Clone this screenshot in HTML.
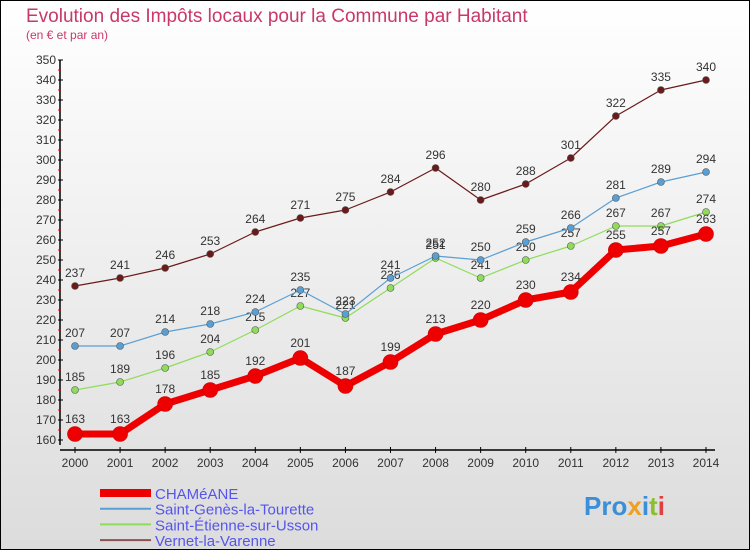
<!DOCTYPE html>
<html><head><meta charset="utf-8"><style>
body{margin:0}
#c{width:750px;height:550px;position:relative;font-family:"Liberation Sans",sans-serif}
</style></head><body>
<div id="c">
<svg id="s" width="750" height="550" xmlns="http://www.w3.org/2000/svg">
<defs><linearGradient id="bg" x1="0" y1="0" x2="0" y2="1"><stop offset="0" stop-color="#ffffff"/><stop offset="1" stop-color="#dcdcdc"/></linearGradient></defs>
<rect x="0.5" y="0.5" width="749" height="549" fill="url(#bg)" stroke="#000"/>
<text x="26" y="22" font-size="19" fill="#c8386a">Evolution des Impôts locaux pour la Commune par Habitant</text>
<text x="26" y="39" font-size="12" fill="#c8386a">(en € et par an)</text>
<g id="axes"></g><g id="series"></g><g id="legend"></g>
<text x="584" y="515" font-size="26" font-weight="bold" fill="#3a8fd8">Pro<tspan fill="#f0a020">x</tspan><tspan fill="#3a8fd8">i</tspan><tspan fill="#8ac030">t</tspan><tspan fill="#e04040">i</tspan></text>
</svg>
</div>
<script>
const years=[2000,2001,2002,2003,2004,2005,2006,2007,2008,2009,2010,2011,2012,2013,2014];
const cham=[163,163,178,185,192,201,187,199,213,220,230,234,255,257,263];
const genes=[207,207,214,218,224,235,223,241,252,250,259,266,281,289,294];
const etienne=[185,189,196,204,215,227,221,236,251,241,250,257,267,267,274];
const vernet=[237,241,246,253,264,271,275,284,296,280,288,301,322,335,340];
const yTicks=[160,170,180,190,200,210,220,230,240,250,260,270,280,290,300,310,320,330,340,350];
const names=["CHAMéANE","Saint-Genès-la-Tourette","Saint-Étienne-sur-Usson","Vernet-la-Varenne"];
const NS="http://www.w3.org/2000/svg";
const X=i=>75+i*(706-75)/(years.length-1);
const Y=v=>440-(v-160)*2;
function mk(p,t,a){const e=document.createElementNS(NS,t);for(const k in a)e.setAttribute(k,a[k]);p.appendChild(e);return e;}
const ax=document.getElementById('axes');
let l=mk(ax,'line',{x1:60,y1:Y(350),x2:60,y2:445,stroke:'#000','stroke-width':1.5});


l=mk(ax,'line',{x1:60,y1:450,x2:715,y2:450,stroke:'#000','stroke-width':1.5});


yTicks.forEach((v,i)=>{
 mk(ax,'line',{x1:58,y1:Y(v),x2:63,y2:Y(v),stroke:'#000'});
 if(i<yTicks.length-1)mk(ax,'line',{x1:58,y1:Y(v+5),x2:61,y2:Y(v+5),stroke:'#e00'});
 const t=mk(ax,'text',{x:56,y:Y(v)+4,'font-size':12,'text-anchor':'end',fill:'#333'});
 t.textContent=v;
 
 
});
years.forEach((y,i)=>{
 mk(ax,'line',{x1:X(i),y1:447,x2:X(i),y2:453,stroke:'#000'});
 const t=mk(ax,'text',{x:X(i),y:467,'font-size':12,'text-anchor':'middle',fill:'#333'});
 t.textContent=y;
 
 
});
const ser=[[vernet,'#6b1a1a',1.2,3.5,'vernet-line'],[etienne,'#8fdc5a',1.2,3.5,'etienne-line'],[genes,'#5a9fd4',1.2,3.5,'genes-line'],[cham,'#ee0000',7,7.5,'chameane-line']];
const sg=document.getElementById('series');
ser.forEach(([d,c,w,r,n])=>{
 const g=mk(sg,'g',{});
 
 
 mk(g,'polyline',{points:d.map((v,i)=>X(i)+','+Y(v)).join(' '),fill:'none',stroke:c,'stroke-width':w,'stroke-linejoin':'round'});
 d.forEach((v,i)=>{
  const p=mk(g,'circle',{cx:X(i),cy:Y(v),r:r,fill:c,stroke:w>2?'#c00':'#555','stroke-width':0.6});
  
  
  const t=mk(g,'text',{x:X(i),y:Y(v)-(w>2?11:9),'font-size':12,'text-anchor':'middle',fill:'#333'});
  t.textContent=v;
  
  
 });
});
const lg=document.getElementById('legend');
const lc=['#ee0000','#5a9fd4','#8fdc5a','#8b5050'],lw=[8,2,2,2];
names.forEach((n,i)=>{
 const y=493+i*15.7;
 mk(lg,'line',{x1:100,y1:y,x2:151,y2:y,stroke:lc[i],'stroke-width':lw[i]});
 const t=mk(lg,'text',{x:155,y:y+6,'font-size':15,fill:'#5555ee'});
 t.textContent=n;
 
 
});
</script>
</body></html>
